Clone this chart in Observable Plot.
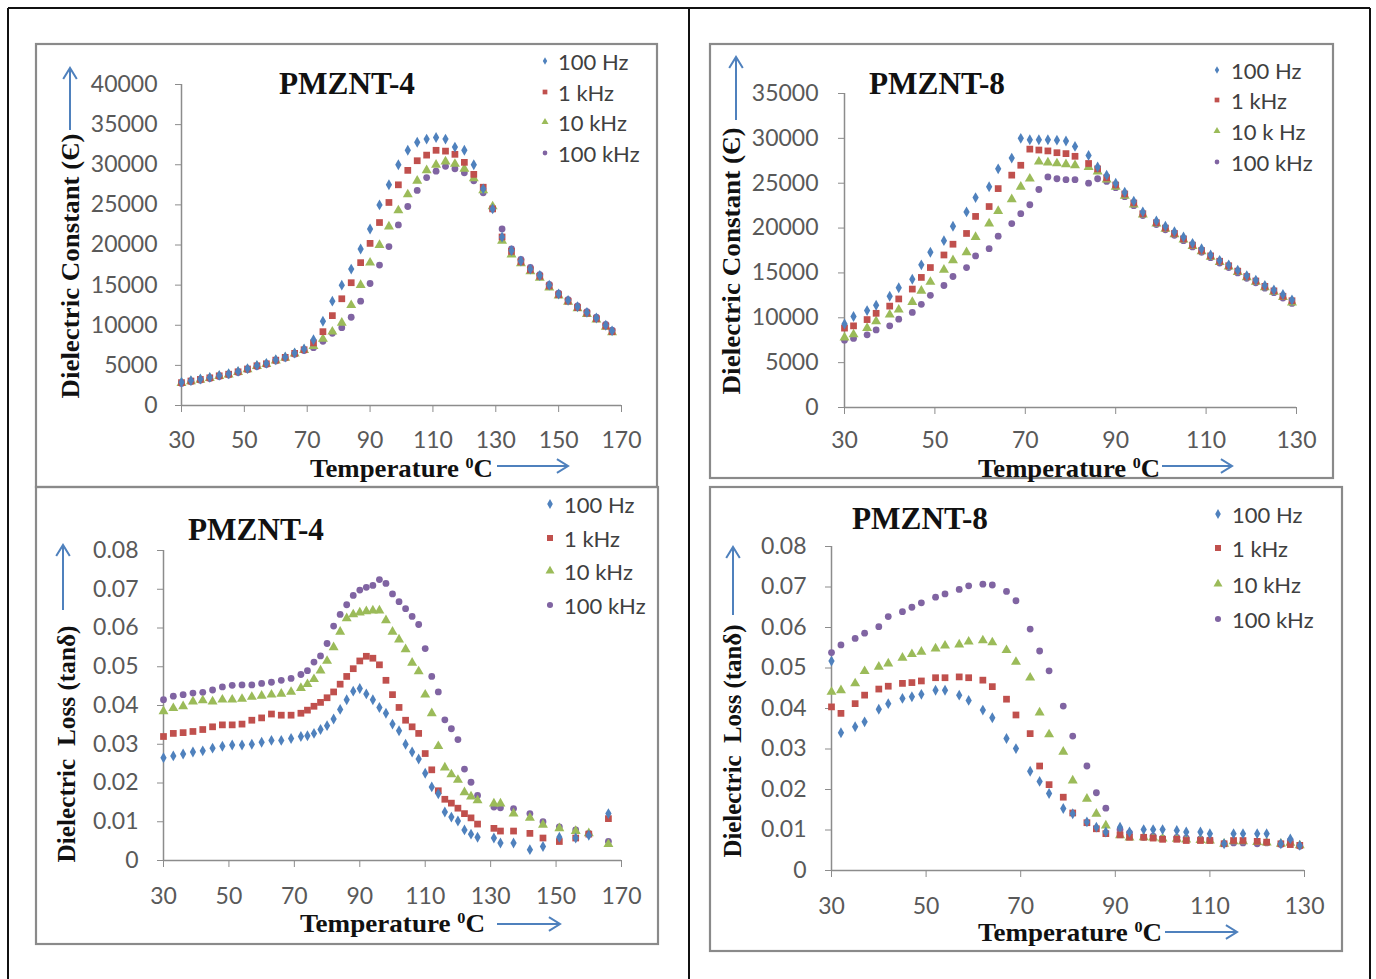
<!DOCTYPE html>
<html><head><meta charset="utf-8">
<script src="https://cdn.jsdelivr.net/npm/d3@7"></script>
<script src="https://cdn.jsdelivr.net/npm/@observablehq/plot@0.6"></script>
<style>
html,body{margin:0;padding:0;background:#fff;}
#page{position:relative;width:1376px;height:979px;overflow:hidden;background:#fff;}
.panel{position:absolute;}
#overlay{position:absolute;left:0;top:0;pointer-events:none;}
</style></head><body><div id="page"></div>
<script>
// ---------- series names ----------
const seriesNames = ["100 Hz", "1 kHz", "10 kHz", "100 kHz"];
const seriesNames8 = ["100 Hz", "1 kHz", "10 k Hz", "100 kHz"];

// ---------- Panel 1 : Dielectric constant, PMZNT-4 ----------
const p1Temp = [30,33,36,39,42,45,48,51,54,57,60,63,66,69,72,75,78,81,84,87,90,93,96,99,102,105,108,111,114,117,120,123,126,129,132,135,138,141,144,147,150,153,156,159,162,165,167];
const p1Hz100 = [2900,3100,3300,3500,3750,3950,4250,4600,5000,5250,5700,6050,6550,7050,8200,10500,13000,15000,17000,19500,22000,25000,27500,30000,31800,32800,33200,33400,33200,32200,31800,30000,27000,24500,21000,19300,18000,17000,16200,15000,13900,13100,12300,11600,10900,10000,9300];
const p1kHz1 = [2850,3050,3250,3450,3700,3900,4200,4550,4950,5200,5650,6000,6500,6950,7800,9200,11200,13300,15300,17800,20200,22800,25300,27500,29300,30500,31200,31800,31700,31300,30300,28800,27200,24500,21000,19200,17900,16900,16100,14900,13800,13000,12200,11500,10800,9900,9200];
const p1kHz10 = [2800,3000,3200,3400,3650,3850,4150,4500,4900,5150,5600,5950,6450,6900,7400,8300,9200,10300,12500,15000,17800,20000,22300,24300,26300,28000,29300,30000,30400,30100,29500,28300,26800,24800,20500,18800,17700,16700,15900,14700,13700,12900,12100,11400,10700,9800,9100];
const p1kHz100 = [2750,2950,3150,3350,3600,3800,4100,4450,4850,5100,5550,5900,6400,6850,7200,8000,9000,9700,11000,13000,15200,17500,19800,22500,24800,26800,28400,29200,29800,29500,29000,28000,26500,24500,22000,19500,18200,17200,16300,15100,14000,13200,12400,11700,11000,10100,9400];
const p1XTicks = [30,50,70,90,110,130,150,170];
const p1YTicks = [0,5000,10000,15000,20000,25000,30000,35000,40000];

// ---------- Panel 2 : Dielectric loss, PMZNT-4 ----------
const p2Temp = [30,33,36,39,42,45,48,51,54,57,60,63,66,69,72,74,76,78,80,82,84,86,88,90,92,94,96,98,100,102,104,106,108,110,112,114,116,118,120,122,124,126,131,133,137,142,146,151,156,160,166];
const p2Hz100 = [.0265,.027,.0275,.028,.0283,.029,.0295,.0298,.0298,.030,.0305,.031,.031,.0315,.032,.0322,.0328,.0338,.0348,.0365,.039,.0415,.0437,.0444,.043,.0415,.0395,.038,.0352,.0335,.030,.028,.0262,.0225,.019,.0172,.0125,.0112,.0102,.0079,.0068,.006,.0058,.0045,.0045,.0028,.0036,.006,.0058,.0065,.0121];
const p2kHz1 = [.032,.0328,.033,.0333,.0338,.0345,.035,.035,.0352,.0362,.0368,.0378,.0375,.0375,.038,.0388,.0398,.0408,.042,.0435,.0455,.0475,.0495,.0515,.0527,.0522,.0505,.0465,.0428,.0395,.0362,.0345,.0328,.0276,.0234,.018,.0158,.0148,.0135,.0121,.011,.0094,.0083,.0076,.0076,.007,.0058,.0049,.0058,.0068,.0108];
const p2kHz10 = [.0385,.0393,.0398,.041,.0413,.041,.0415,.0415,.0417,.0422,.0425,.0428,.043,.0435,.0445,.0455,.0468,.049,.0515,.055,.059,.0625,.0635,.064,.0643,.0645,.0645,.062,.059,.057,.0545,.051,.0488,.0428,.038,.0295,.024,.0222,.0208,.0176,.0165,.0155,.0147,.0147,.0121,.011,.0092,.0083,.0076,.007,.0042];
const p2kHz100 = [.0415,.0424,.0428,.0432,.0434,.044,.0448,.0452,.0453,.0453,.0457,.046,.0465,.047,.048,.049,.0512,.0528,.056,.0605,.0635,.066,.0684,.0698,.0705,.071,.0725,.0715,.0688,.0668,.065,.063,.0609,.0547,.0475,.0435,.0363,.034,.0312,.0236,.0202,.0168,.0138,.0136,.0134,.0121,.01,.0087,.0079,.007,.0049];
const p2XTicks = [30,50,70,90,110,130,150,170];
const lossYTicks = [0,0.01,0.02,0.03,0.04,0.05,0.06,0.07,0.08];

// ---------- Panel 3 : Dielectric constant, PMZNT-8 ----------
const p3Temp = [30,32,35,37,40,42,45,47,49,52,54,57,59,62,64,67,69,71,73,75,77,79,81,84,86,88,90,92,94,96,99,101,103,105,107,109,111,113,115,117,119,121,123,125,127,129];
const p3Hz100 = [9300,10150,10800,11400,12400,13350,14300,15900,17300,18600,20200,21800,23400,24600,26600,27800,30000,29850,29850,29850,29800,29700,29100,28100,26800,25900,25000,24000,23000,21800,20800,20200,19600,19000,18300,17700,17000,16400,15900,15300,14700,14200,13600,13100,12600,12000];
const p3kHz1 = [8850,9100,9800,10500,11300,12100,13200,14500,15600,17000,18200,19400,21300,22400,24400,25900,27000,28800,28700,28600,28400,28300,28000,27200,26600,25600,24800,23800,22800,21600,20600,20000,19400,18800,18100,17500,16900,16300,15800,15200,14600,14100,13500,13000,12400,11900];
const p3kHz10 = [7800,8150,8850,9600,10350,10900,11750,13000,14000,15350,16400,17300,19000,20500,21900,23200,24600,25500,27400,27300,27200,27100,27000,26800,26300,25400,24600,23600,22600,21500,20500,19900,19300,18700,18000,17400,16800,16200,15700,15100,14500,14000,13400,12900,12300,11700];
const p3kHz100 = [7500,7700,8100,8650,9100,9850,10600,11500,12500,13600,14600,15600,16900,17700,19100,20500,21600,22600,24300,25700,25500,25400,25400,25000,25500,25200,24500,23500,22500,21400,20400,19800,19200,18600,17900,17300,16700,16100,15600,15000,14400,13900,13300,12800,12200,11600];
const p3XTicks = [30,50,70,90,110,130];
const p3YTicks = [0,5000,10000,15000,20000,25000,30000,35000];

// ---------- Panel 4 : Dielectric loss, PMZNT-8 ----------
const p4Temp = [30,32,35,37,40,42,45,47,49,52,54,57,59,62,64,67,69,72,74,76,79,81,84,86,88,91,93,96,98,100,103,105,108,110,113,115,117,120,122,125,127,129];
const p4Hz100 = [.0517,.034,.0355,.0367,.0398,.0412,.0425,.0429,.0435,.0445,.0445,.0433,.042,.0396,.0377,.0326,.0301,.0245,.022,.019,.0153,.014,.012,.0107,.0095,.0107,.0095,.0101,.0101,.0101,.0099,.0095,.0095,.0091,.0066,.0091,.0091,.0091,.0091,.0066,.0078,.0062];
const p4kHz1 = [.0404,.0388,.0412,.0433,.0448,.0455,.0462,.0464,.0468,.0476,.0476,.0478,.0476,.047,.0454,.0423,.0384,.0338,.0258,.0212,.0181,.0142,.0118,.0103,.0091,.0088,.0082,.0082,.008,.0077,.0077,.0074,.0074,.0074,.0066,.0074,.0074,.0072,.007,.0066,.0064,.0062];
const p4kHz10 = [.0441,.0445,.0462,.0492,.0503,.0511,.0525,.0534,.054,.0548,.0555,.0558,.0565,.0568,.0563,.0544,.0515,.0476,.039,.0336,.0293,.0222,.0177,.014,.0111,.0087,.0081,.0082,.0081,.0079,.0078,.0076,.0075,.0074,.0066,.0072,.0072,.007,.0069,.0066,.0068,.0062];
const p4kHz100 = [.0538,.0557,.0573,.0586,.0602,.0627,.0639,.065,.0661,.0675,.0683,.0694,.0703,.0707,.0705,.0689,.0666,.0596,.0542,.0493,.0406,.0332,.0258,.0192,.0154,.0101,.0093,.0082,.0085,.008,.0082,.008,.0078,.0076,.0066,.0068,.0068,.0066,.0068,.0064,.0074,.006];
const p4XTicks = [30,50,70,90,110,130];

// ---------- styling ----------
const colors = ["#4F81BD", "#C0504D", "#9BBB59", "#8064A2"];
const symbols = ["diamond", "square", "triangle", "circle"];
const radii = [3.3, 3.8, 3.7, 3.4];
const tickFont = "Lato, 'Open Sans', sans-serif";
const serif = "'Liberation Serif', 'Times New Roman', serif";

const page = document.getElementById("page");

function makePanel(cfg) {
  const vals = [cfg.s0, cfg.s1, cfg.s2, cfg.s3];
  const rows = [];
  vals.forEach((arr, k) => arr.forEach((v, i) => rows.push({t: cfg.temp[i], v, k})));
  const chart = Plot.plot({
    width: cfg.w, height: cfg.h,
    marginLeft: cfg.ml, marginRight: cfg.mr, marginTop: cfg.mt, marginBottom: cfg.mb,
    x: {domain: [cfg.xTicks[0], cfg.xTicks[cfg.xTicks.length - 1]], label: null},
    y: {domain: [cfg.yTicks[0], cfg.yTicks[cfg.yTicks.length - 1]], label: null},
    style: {fontFamily: tickFont, fontSize: "23px", background: "transparent", overflow: "visible", color: "#595959"},
    marks: [
      Plot.axisX({ticks: cfg.xTicks, tickSize: 7, tickPadding: cfg.xPad, stroke: "#8c8c8c", fill: "#595959", fontSize: 23, label: null, tickFormat: d => String(d)}),
      Plot.axisY({ticks: cfg.yTicks, tickSize: 6, tickPadding: cfg.yPad, stroke: "#8c8c8c", fill: "#595959", fontSize: 23, label: null, tickFormat: cfg.yFmt}),
      Plot.ruleY([cfg.yTicks[0]], {stroke: "#8c8c8c", strokeWidth: 1.5}),
      Plot.ruleX([cfg.xTicks[0]], {stroke: "#8c8c8c", strokeWidth: 1.5}),
      ...[3, 2, 1, 0].map(k => Plot.dot(rows.filter(d => d.k === k), {
        x: "t", y: "v", symbol: symbols[k], fill: colors[k], r: radii[k]
      }))
    ]
  });
  const div = document.createElement("div");
  div.className = "panel";
  div.style.left = cfg.left + "px";
  div.style.top = cfg.top + "px";
  div.appendChild(chart);
  page.appendChild(div);
}

const fmtInt = d => String(d);
const fmtLoss = d => d === 0 ? "0" : d.toFixed(2);

makePanel({left: 36, top: 44, w: 621, h: 443, ml: 145, mr: 36, mt: 40, mb: 82,
  xTicks: p1XTicks, yTicks: p1YTicks, yFmt: fmtInt, xPad: 19, yPad: 18,
  temp: p1Temp, s0: p1Hz100, s1: p1kHz1, s2: p1kHz10, s3: p1kHz100});
makePanel({left: 36, top: 487, w: 622, h: 457, ml: 127, mr: 37, mt: 63, mb: 84,
  xTicks: p2XTicks, yTicks: lossYTicks, yFmt: fmtLoss, xPad: 20, yPad: 19,
  temp: p2Temp, s0: p2Hz100, s1: p2kHz1, s2: p2kHz10, s3: p2kHz100});
makePanel({left: 710, top: 44, w: 623, h: 434, ml: 134, mr: 37, mt: 49, mb: 71,
  xTicks: p3XTicks, yTicks: p3YTicks, yFmt: fmtInt, xPad: 17, yPad: 20,
  temp: p3Temp, s0: p3Hz100, s1: p3kHz1, s2: p3kHz10, s3: p3kHz100});
makePanel({left: 710, top: 487, w: 632, h: 464, ml: 121, mr: 38, mt: 59, mb: 81,
  xTicks: p4XTicks, yTicks: lossYTicks, yFmt: fmtLoss, xPad: 20, yPad: 19,
  temp: p4Temp, s0: p4Hz100, s1: p4kHz1, s2: p4kHz10, s3: p4kHz100});

// ---------- overlay: frames, titles, arrows, legends ----------
const svg = d3.select(page).append("svg").attr("id", "overlay").attr("width", 1376).attr("height", 979);

// outer table lines
[[8, 8, 1370, 8], [8, 8, 8, 979], [689, 8, 689, 979], [1370, 8, 1370, 979]].forEach(([x1, y1, x2, y2]) =>
  svg.append("line").attr("x1", x1).attr("y1", y1).attr("x2", x2).attr("y2", y2).attr("stroke", "#111").attr("stroke-width", 2));

// panel boxes
[[36, 44, 657, 487], [36, 487, 658, 944], [710, 44, 1333, 478], [710, 487, 1342, 951]].forEach(([x1, y1, x2, y2]) =>
  svg.append("rect").attr("x", x1).attr("y", y1).attr("width", x2 - x1).attr("height", y2 - y1)
    .attr("fill", "none").attr("stroke", "#8a8a8a").attr("stroke-width", 2.2));

// panel titles
[["PMZNT-4", 347, 94], ["PMZNT-4", 256, 540], ["PMZNT-8", 937, 94], ["PMZNT-8", 920, 529]].forEach(([t, x, y]) =>
  svg.append("text").attr("x", x).attr("y", y).attr("text-anchor", "middle")
    .attr("font-family", serif).attr("font-weight", "bold").attr("font-size", 31).attr("fill", "#111")
    .attr("textLength", 136).attr("lengthAdjust", "spacingAndGlyphs").text(t));

// x axis titles
[[310, 477, 183], [300, 932, 185], [978, 477, 182], [978, 941, 184]].forEach(([x, y, len]) => {
  const t = svg.append("text").attr("x", x).attr("y", y)
    .attr("font-family", serif).attr("font-weight", "bold").attr("font-size", 25).attr("fill", "#111")
    .attr("textLength", len).attr("lengthAdjust", "spacingAndGlyphs");
  t.append("tspan").text("Temperature ");
  t.append("tspan").attr("font-size", 15).attr("dy", -9).text("0");
  t.append("tspan").attr("dy", 9).text("C");
});

// y axis titles
[["Dielectric Constant (Є)", 70, 266, 265], ["Dielectric\u00a0 Loss (tanδ)", 66, 744, 237],
 ["Dielectric Constant (Є)", 731, 261, 267], ["Dielectric\u00a0 Loss (tanδ)", 732, 741, 233]].forEach(([s, x, y, len]) =>
  svg.append("text").attr("transform", `translate(${x},${y}) rotate(-90)`)
    .attr("text-anchor", "middle").attr("dominant-baseline", "central")
    .attr("font-family", serif).attr("font-weight", "bold").attr("font-size", 26).attr("fill", "#111")
    .attr("textLength", len).attr("lengthAdjust", "spacingAndGlyphs").text(s));

// arrows
const arrowColor = "#4F81BD";
function arrow(x1, y1, x2, y2) {
  const g = svg.append("g").attr("stroke", arrowColor).attr("stroke-width", 2).attr("fill", "none");
  g.append("line").attr("x1", x1).attr("y1", y1).attr("x2", x2).attr("y2", y2);
  const a = Math.atan2(y2 - y1, x2 - x1), L = 13, s = 0.55;
  g.append("path").attr("d",
    `M${x2 - L * Math.cos(a - s)},${y2 - L * Math.sin(a - s)} L${x2},${y2} L${x2 - L * Math.cos(a + s)},${y2 - L * Math.sin(a + s)}`);
}
arrow(70, 130, 70, 68); arrow(497, 466, 568, 466);
arrow(63, 610, 63, 545); arrow(497, 924, 560, 924);
arrow(736, 120, 736, 57); arrow(1162, 466, 1232, 466);
arrow(733, 615, 733, 547); arrow(1165, 932, 1237, 932);

// legends
function legend(mx, tx, ys, names, sizeScale) {
  names.forEach((n, k) => {
    svg.append("path").attr("transform", `translate(${mx},${ys[k]})`)
      .attr("d", d3.symbol(d3["symbol" + symbols[k][0].toUpperCase() + symbols[k].slice(1)], Math.PI * (radii[k] * sizeScale) ** 2)())
      .attr("fill", colors[k]);
    svg.append("text").attr("x", tx).attr("y", ys[k]).attr("dominant-baseline", "central")
      .attr("font-family", tickFont).attr("font-size", 22).attr("fill", "#404040").text(n);
  });
}
legend(545, 558, [61, 92, 122, 153], seriesNames, 0.7);
legend(550, 564, [504, 538, 571, 605], seriesNames, 0.9);
legend(1217, 1231, [70, 100, 131, 162], seriesNames8, 0.7);
legend(1218, 1232, [514, 548, 584, 619], seriesNames, 0.9);
</script></body></html>
